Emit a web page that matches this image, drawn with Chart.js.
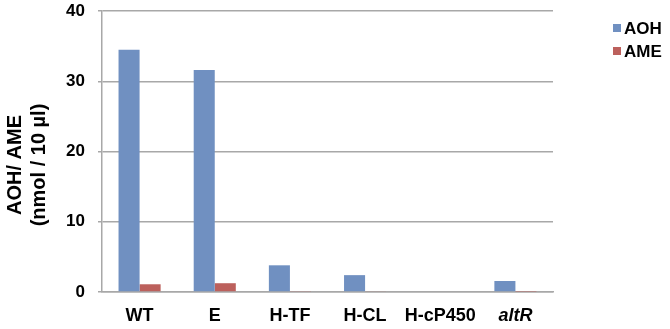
<!DOCTYPE html>
<html lang="en">
<head>
    <meta charset="UTF-8">
    <title>AOH / AME</title>
    <style>
        body { margin: 0; background: #fff; }
        #wrap { width: 670px; height: 329px; }
    </style>
</head>
<body>
    <div id="wrap">
        <canvas id="myChart" width="670" height="329"></canvas>
    </div>

    <script src="https://cdn.jsdelivr.net/npm/chart.js"></script>
    <script>
        // 데이터
        const strains = ["WT", "E", "H-TF", "H-CL", "H-cP450", "altR"];
        const aohValues = [34.5, 31.6, 3.8, 2.4, 0, 1.57];
        const ameValues = [1.1, 1.25, 0.08, 0.12, 0, 0.05];
        const yTicks = [0, 10, 20, 30, 40];
        const yTitle = ["AOH/ AME", "(nmol / 10 µl)"];

        const blue = "#7090c1";
        const red = "#bc605c";
        const gridGray = "#a8a8a8";
        const fontFam = "'Liberation Sans', Arial, sans-serif";

        // 오른쪽 범례 + y축 제목 직접 그림
        const sideText = {
            id: "sideText",
            afterDraw(chart) {
                const c = chart.ctx;
                c.save();
                c.font = "bold 17px " + fontFam;
                c.textBaseline = "middle";
                chart.data.datasets.forEach((ds, i) => {
                    const y = 28 + i * 23;
                    c.fillStyle = ds.backgroundColor;
                    c.fillRect(613, y - 4, 8, 8);
                    c.fillStyle = "#000";
                    c.fillText(ds.label, 624, y + 1);
                });

                // y축 제목 (두 줄, 회전)
                c.translate(0, 165);
                c.rotate(-Math.PI / 2);
                c.font = "bold 20px " + fontFam;
                c.textAlign = "center";
                c.fillStyle = "#000";
                yTitle.forEach((t, i) => {
                    c.fillText(t, 0, 15 + i * 24);
                });
                c.restore();
            }
        };

        const ctx = document.getElementById("myChart");
        new Chart(ctx, {
            type: "bar",
            data: {
                labels: strains,
                datasets: [
                    { label: "AOH", data: aohValues, backgroundColor: blue },
                    { label: "AME", data: ameValues, backgroundColor: red }
                ]
            },
            options: {
                responsive: false,
                animation: false,
                layout: { padding: { top: 0, right: 117, left: 0, bottom: 0 } },
                datasets: {
                    bar: { categoryPercentage: 0.56, barPercentage: 1.0 }
                },
                scales: {
                    x: {
                        grid: { display: false },
                        border: { display: true, color: gridGray, width: 1.5 },
                        ticks: {
                            color: "#000",
                            padding: 5,
                            autoSkip: false,
                            maxRotation: 0,
                            minRotation: 0,
                            font: (c) => ({
                                family: fontFam,
                                size: 18,
                                weight: "bold",
                                style: strains[c.index] === "altR" ? "italic" : "normal"
                            })
                        },
                        afterFit(scale) { scale.height = 37; }
                    },
                    y: {
                        min: 0,
                        max: 40,
                        afterBuildTicks(scale) {
                            scale.ticks = yTicks.map(v => ({ value: v }));
                        },
                        grid: { color: gridGray, lineWidth: 1.5, tickLength: 4 },
                        border: { display: true, color: gridGray, width: 1.5 },
                        ticks: {
                            color: "#000",
                            padding: 13,
                            font: { family: fontFam, size: 17, weight: "bold" }
                        },
                        afterFit(scale) {
                            scale.width = 102;
                            scale.paddingTop = 11;
                            scale.paddingBottom = 0;
                        }
                    }
                },
                plugins: {
                    legend: { display: false },
                    tooltip: { enabled: false }
                }
            },
            plugins: [sideText]
        });
    </script>
</body>
</html>
